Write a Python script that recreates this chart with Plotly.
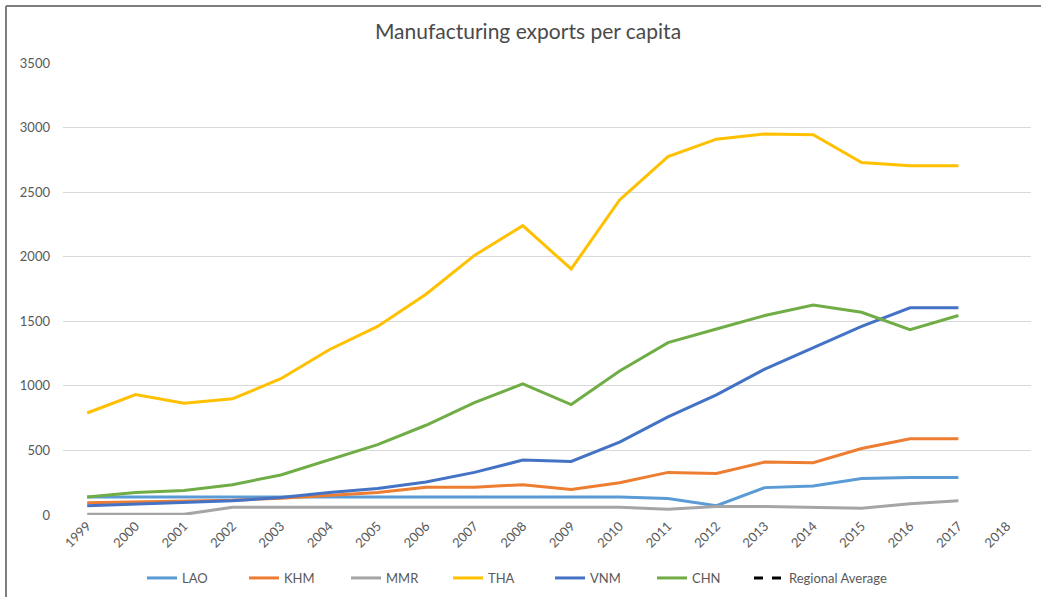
import plotly.graph_objects as go

years = [str(y) for y in range(1999, 2019)]

LAO = [140, 140, 140, 140, 140, 140, 140, 140, 140, 140, 140, 140, 128, 72, 212, 225, 283, 290, 290, None]
KHM = [95, 100, 105, 115, 130, 150, 175, 215, 215, 235, 197, 250, 330, 322, 410, 405, 515, 590, 590, None]
MMR = [5, 5, 5, 60, 60, 60, 60, 60, 60, 60, 60, 60, 45, 65, 65, 60, 52, 87, 110, None]
THA = [790, 932, 865, 900, 1055, 1280, 1460, 1710, 2010, 2240, 1905, 2440, 2775, 2910, 2950, 2945, 2730, 2705, 2705, None]
VNM = [72, 85, 95, 110, 135, 175, 205, 255, 330, 425, 415, 565, 760, 930, 1130, 1295, 1460, 1605, 1605, None]
CHN = [140, 175, 190, 235, 310, 425, 545, 695, 870, 1015, 855, 1115, 1335, 1440, 1545, 1625, 1570, 1435, 1545, None]
REGIONAL_AVG = [None] * len(years)

series = [
    ("LAO", LAO, "#5B9BD5", "solid", "legend"),
    ("KHM", KHM, "#ED7D31", "solid", "legend"),
    ("MMR", MMR, "#A5A5A5", "solid", "legend"),
    ("THA", THA, "#FFC000", "solid", "legend"),
    ("VNM", VNM, "#4472C4", "solid", "legend"),
    ("CHN", CHN, "#70AD47", "solid", "legend"),
    ("Regional Average", REGIONAL_AVG, "#000000", "dash", "legend2"),
]

fig = go.Figure()
for name, vals, color, dash, lg in series:
    fig.add_trace(go.Scatter(
        x=years, y=vals, name=name, mode="lines",
        line=dict(color=color, width=3, dash=dash),
        connectgaps=False, legend=lg,
    ))

L, R, T, B = 63, 10, 63, 82
W, H = 1041, 597
pw, ph = W - L - R, H - T - B

def px(x):
    return (x - L) / pw

def py(y):
    return (H - B - y) / ph

legend_common = dict(orientation="h", xref="container", yref="container",
                     xanchor="left", y=1 - 578 / H, yanchor="middle",
                     font=dict(size=13, color="#595959"),
                     bgcolor="rgba(0,0,0,0)")

fig.update_layout(
    width=W, height=H,
    margin=dict(l=L, r=R, t=T, b=B, autoexpand=False),
    paper_bgcolor="white", plot_bgcolor="white",
    font=dict(family="Lato, Open Sans, sans-serif", color="#595959"),
    title=dict(text="Manufacturing exports per capita", xref="container", x=528 / W,
               xanchor="center", y=1 - 32 / H, yanchor="middle",
               font=dict(size=21, color="#4a4a4a")),
    xaxis=dict(type="category", showgrid=False, showline=False, ticks="",
               tickangle=-45, tickfont=dict(size=13, color="#595959"),
               range=[-0.5, 19.5], automargin=False),
    yaxis=dict(range=[0, 3500], dtick=500, showgrid=True, gridcolor="#D9D9D9",
               gridwidth=1, zeroline=False, showline=False, ticks="",
               tickfont=dict(size=13, color="#595959"), ticklabelstandoff=12,
               automargin=False),
    legend=dict(**legend_common, x=142 / W, entrywidth=57, entrywidthmode="pixels"),
    legend2=dict(**legend_common, x=749 / W),
    showlegend=True,
    shapes=[
        dict(type="line", xref="paper", yref="paper", x0=px(6), x1=px(W), y0=py(6), y1=py(6),
             line=dict(color="#7F7F7F", width=2)),
        dict(type="line", xref="paper", yref="paper", x0=px(6), x1=px(6), y0=py(6), y1=py(H),
             line=dict(color="#7F7F7F", width=2)),
    ],
)

fig.write_html("out.html", config={"displayModeBar": False},
               post_script="document.body.style.margin='0';document.body.style.overflow='hidden';")
